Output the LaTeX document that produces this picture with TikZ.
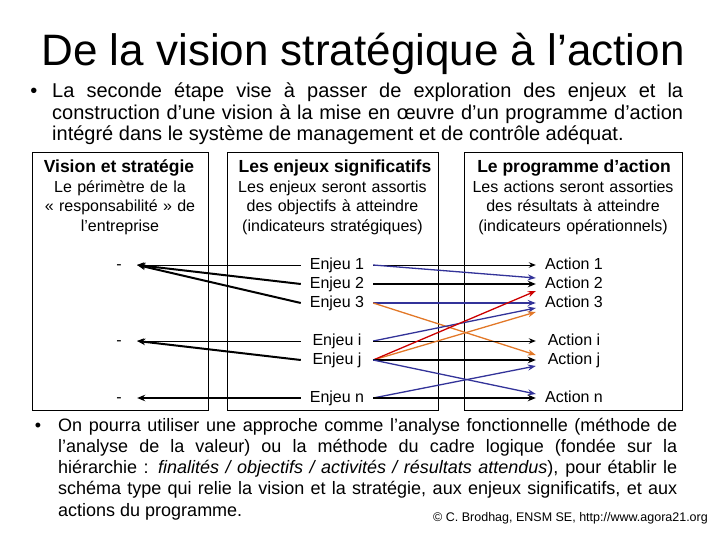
\documentclass[tikz,border=0pt]{standalone}
\usepackage{fontspec}
\setmainfont{Liberation Sans}
\usetikzlibrary{arrows.meta}
\definecolor{bleu}{RGB}{51,51,153}
\definecolor{rouge}{RGB}{204,0,0}
\definecolor{orangec}{RGB}{226,120,40}

\begin{document}
\begin{tikzpicture}[x=1pt,y=1pt,
    titre/.style={anchor=base, inner sep=0pt, font=\fontsize{44}{48}\selectfont},
    puce/.style={anchor=base west, inner sep=0pt, text width=#1, align=justify},
    entete/.style={anchor=base, inner sep=0pt, font=\bfseries\fontsize{17.5}{20}\selectfont},
    descr/.style={anchor=base, inner sep=0pt, text width=210pt, align=center, font=\fontsize{16}{19.5}\selectfont},
    elt/.style={minimum width=#1, inner sep=0pt, text height=11.5pt, text depth=3.5pt, font=\fontsize{16}{19}\selectfont},
    fl/.style={line width=1pt, -{Stealth[length=7pt,width=5.5pt]}},
    flg/.style={line width=2pt, -{Stealth[length=8pt,width=6.5pt]}},
    flc/.style={line width=1.3pt, #1, -{Stealth[length=8pt,width=6pt]}}]

    \useasboundingbox (0,0) rectangle (720,-540);

    \node[titre] (titre) at (363,-66) {De la vision stratégique à l’action};

    \node[anchor=base, inner sep=0pt, font=\fontsize{20}{21.5}\selectfont] (puce1) at (34,-98) {•};
    \node[puce=631pt, font=\fontsize{20}{21.5}\selectfont] (texte1) at (52,-98)
      {\sloppy\hyphenpenalty=10000 La seconde étape vise à passer de exploration des enjeux et la\linebreak
       construction d’une vision à la mise en œuvre d’un programme d’action\linebreak
       intégré dans le système de management et de contrôle adéquat.};

    % les trois cadres
    \draw[line width=1pt] (32,-153) rectangle (208,-410);
    \draw[line width=1pt] (227,-153) rectangle (438,-410);
    \draw[line width=1pt] (464,-153) rectangle (682,-410);

    \node[entete] (vtete) at (119,-173) {Vision et stratégie};
    \node[entete] (etete) at (335,-173) {Les enjeux significatifs};
    \node[entete] (atete) at (574,-173) {Le programme d’action};

    \node[descr] (vdescr) at (120,-192.5) {Le périmètre de la\\ « responsabilité » de\\ l’entreprise};
    \node[descr] (edescr) at (332.5,-192.5) {Les enjeux seront assortis\\ des objectifs à atteindre\\ (indicateurs stratégiques)};
    \node[descr] (adescr) at (573,-192.5) {Les actions seront assorties\\ des résultats à atteindre\\ (indicateurs opérationnels)};

    \node[elt=36pt] (d1) at (119,-265) {-};
    \node[elt=36pt] (d2) at (119,-341) {-};
    \node[elt=36pt] (d3) at (119,-398) {-};

    \node[elt=72pt] (e1) at (337,-265) {Enjeu 1};
    \node[elt=72pt] (e2) at (337,-284) {Enjeu 2};
    \node[elt=72pt] (e3) at (337,-303) {Enjeu 3};
    \node[elt=72pt] (ei) at (337,-341) {Enjeu i};
    \node[elt=72pt] (ej) at (337,-360) {Enjeu j};
    \node[elt=72pt] (en) at (337,-398) {Enjeu n};

    \node[elt=76pt] (a1) at (574,-265) {Action 1};
    \node[elt=76pt] (a2) at (574,-284) {Action 2};
    \node[elt=76pt] (a3) at (574,-303) {Action 3};
    \node[elt=76pt] (ai) at (574,-341) {Action i};
    \node[elt=76pt] (aj) at (574,-360) {Action j};
    \node[elt=76pt] (an) at (574,-398) {Action n};

    % enjeux vers la vision
    \draw[fl] (e1.west) -- (d1.east);
    \draw[flg] (e2.west) -- (d1.east);
    \draw[flg] (e3.west) -- (d1.east);
    \draw[fl] (ei.west) -- (d2.east);
    \draw[flg] (ej.west) -- (d2.east);
    \draw[flg] (en.west) -- (d3.east);

    % enjeux vers les actions
    \draw[fl] (e1.east) -- (a1.west);
    \draw[flc=bleu] (e1.east) -- ([yshift=6pt]a2.west);
    \draw[flg] (e2.east) -- (a2.west);
    \draw[flc=bleu] (e3.east) -- (a3.west);
    \draw[flc=orangec] (e3.east) -- ([yshift=5pt]aj.west);
    \draw[flc=bleu] (ei.east) -- ([yshift=-5pt]a3.west);
    \draw[fl] (ei.east) -- (ai.west);
    \draw[flc=orangec] (ej.east) -- ([yshift=-9pt]a3.west);
    \draw[flc=rouge] (ej.east) -- ([yshift=-7pt]a2.west);
    \draw[flg] (ej.east) -- (aj.west);
    \draw[flc=bleu] (ej.east) -- ([yshift=4pt]an.west);
    \draw[flc=bleu] (en.east) -- ([yshift=-6pt]aj.west);
    \draw[flg] (en.east) -- (an.west);

    \node[anchor=base, inner sep=0pt, font=\fontsize{18}{21.3}\selectfont] (puce2) at (38,-431) {•};
    \node[puce=619pt, font=\fontsize{18}{21.3}\selectfont] (texte2) at (58,-431)
      {\sloppy\hyphenpenalty=10000 On pourra utiliser une approche comme l’analyse fonctionnelle (méthode de\linebreak
       l’analyse de la valeur) ou la méthode du cadre logique (fondée sur la\linebreak
       hiérarchie : \textit{finalités / objectifs / activités / résultats attendus}), pour établir le\linebreak
       schéma type qui relie la vision et la stratégie, aux enjeux significatifs, et aux\linebreak
       actions du programme.};

    \node[anchor=base west, inner sep=0pt, font=\fontsize{12.5}{14}\selectfont] (credit) at (433,-521)
      {© C. Brodhag, ENSM SE, http://www.agora21.org};

\end{tikzpicture}
\end{document}
